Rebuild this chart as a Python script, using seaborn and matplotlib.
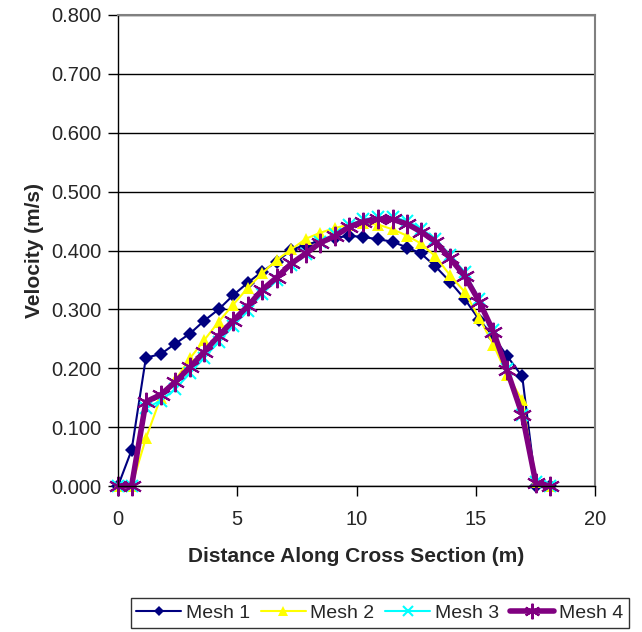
import matplotlib
matplotlib.use("Agg")
import matplotlib.pyplot as plt
import seaborn as sns
import pandas as pd

# distance along the cross section (m), shared by all meshes
distance = [0, 0.57, 1.17, 1.79, 2.41, 3.02, 3.62, 4.22, 4.83, 5.43, 6.04,
            6.65, 7.27, 7.88, 8.47, 9.08, 9.68, 10.28, 10.91, 11.51, 12.12,
            12.70, 13.31, 13.92, 14.53, 15.15, 15.74, 16.31, 16.95, 17.52, 18.10]

mesh_1 = [0, 0.061, 0.218, 0.224, 0.242, 0.259, 0.281, 0.300, 0.324, 0.345, 0.364,
          0.381, 0.401, 0.410, 0.416, 0.421, 0.425, 0.423, 0.419, 0.415, 0.405,
          0.395, 0.373, 0.347, 0.318, 0.282, 0.254, 0.221, 0.186, 0, 0]
mesh_2 = [0, 0, 0.081, 0.150, 0.180, 0.217, 0.248, 0.279, 0.308, 0.336, 0.361,
          0.384, 0.402, 0.420, 0.430, 0.438, 0.444, 0.446, 0.444, 0.436, 0.425,
          0.412, 0.390, 0.358, 0.330, 0.285, 0.240, 0.189, 0.146, 0.007, 0]
mesh_3 = [0, 0, 0.132, 0.145, 0.165, 0.192, 0.218, 0.245, 0.272, 0.298, 0.326,
          0.350, 0.375, 0.394, 0.414, 0.428, 0.443, 0.453, 0.457, 0.457, 0.450,
          0.437, 0.420, 0.392, 0.363, 0.318, 0.265, 0.198, 0.121, 0.006, 0]
mesh_4 = [0, 0, 0.143, 0.155, 0.177, 0.202, 0.228, 0.255, 0.281, 0.305, 0.333,
          0.354, 0.378, 0.395, 0.413, 0.424, 0.440, 0.449, 0.453, 0.453, 0.445,
          0.432, 0.415, 0.387, 0.357, 0.313, 0.262, 0.197, 0.121, 0.005, 0]

series_names = ["Mesh 1", "Mesh 2", "Mesh 3", "Mesh 4"]
series_values = [mesh_1, mesh_2, mesh_3, mesh_4]

x_ticks = [0, 5, 10, 15, 20]
y_ticks = [0.0, 0.1, 0.2, 0.3, 0.4, 0.5, 0.6, 0.7, 0.8]

sns.set_style("white")
plt.rcParams['font.family'] = ['Liberation Sans', 'DejaVu Sans']

# excel-like look for each series
styles = {
    "Mesh 1": dict(color="#000080", marker="D", markersize=7, linewidth=1.5, markeredgewidth=0),
    "Mesh 2": dict(color="#FFFF00", marker="^", markersize=9, linewidth=1.5, markeredgewidth=0),
    "Mesh 3": dict(color="#00FFFF", marker="x", markersize=9, linewidth=1.5, markeredgewidth=1.5),
    "Mesh 4": dict(color="#800080", marker=(6, 2, 0), markersize=14, linewidth=4, markeredgewidth=1.5),
}

fig = plt.figure(figsize=(6.42, 6.32), dpi=100)
ax = fig.add_axes([118/642, 1 - 486/632, (595-118)/642, (486-15)/632])

for name, vals in zip(series_names, series_values):
    df = pd.DataFrame({"Distance": distance, "Velocity": vals})
    st = styles[name]
    sns.lineplot(data=df, x="Distance", y="Velocity", ax=ax, label=name,
                 color=st["color"], marker=st["marker"], markersize=st["markersize"],
                 linewidth=st["linewidth"], markeredgewidth=st["markeredgewidth"],
                 markeredgecolor=st["color"], sort=False, legend=False, clip_on=False)

ax.set_xlim(0, 20)
ax.set_ylim(0, 0.8)
ax.set_xticks(x_ticks)
ax.set_yticks(y_ticks)
ax.set_yticklabels([f"{v:.3f}" for v in y_ticks])
ax.yaxis.grid(True, color="black", linewidth=1)
ax.set_axisbelow(True)

ax.tick_params(axis='both', which='major', labelsize=14.5, direction='out',
               length=7, width=1, color='black', bottom=True, left=True)
ax.tick_params(axis='x', pad=10)
ax.tick_params(axis='y', pad=5)

for side in ['left', 'bottom']:
    ax.spines[side].set_color('black')
    ax.spines[side].set_linewidth(1)
for side in ['top', 'right']:
    ax.spines[side].set_color('#808080')
    ax.spines[side].set_linewidth(1.5)

ax.set_xlabel("Distance Along Cross Section (m)", fontsize=15, fontweight='bold', labelpad=13)
ax.set_ylabel("Velocity (m/s)", fontsize=15, fontweight='bold', labelpad=5)

handles, labels = ax.get_legend_handles_labels()
leg = fig.legend(handles, labels, loc='center', bbox_to_anchor=(380/642, 1 - 613/632),
                 ncol=4, fontsize=14, frameon=True, fancybox=False, handlelength=2.3,
                 handletextpad=0.25, columnspacing=0.55, borderpad=0.3, markerscale=0.8)
leg.get_frame().set_edgecolor('black')
leg.get_frame().set_linewidth(1)

fig.savefig("out.png", dpi=100, facecolor='white')
